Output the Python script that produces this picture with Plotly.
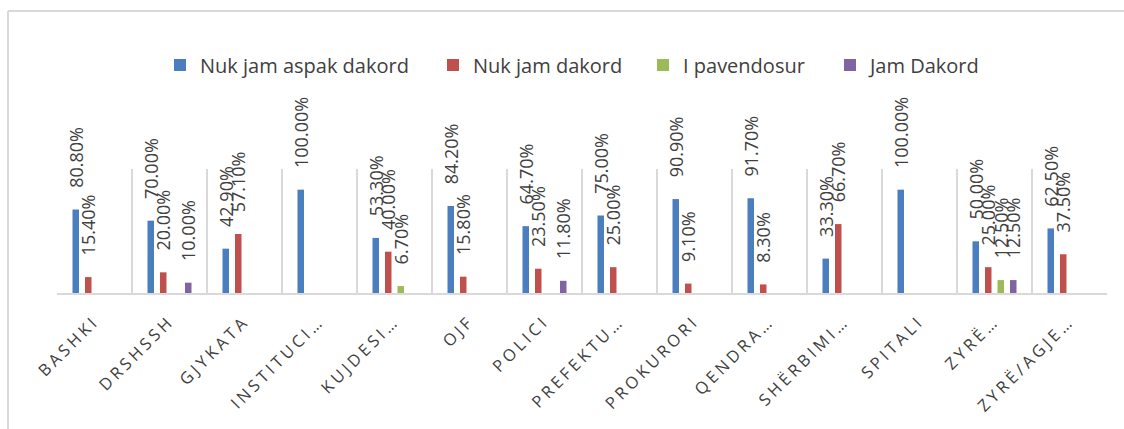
import plotly.graph_objects as go

categories = ["BASHKI", "DRSHSSH", "GJYKATA", "INSTITUCI…", "KUJDESI…", "OJF", "POLICI",
              "PREFEKTU…", "PROKURORI", "QENDRA…", "SHËRBIMI…", "SPITALI", "ZYRË…", "ZYRË/AGJE…"]

series_names = ["Nuk jam aspak dakord", "Nuk jam dakord", "I pavendosur", "Jam Dakord"]

nuk_jam_aspak_dakord = [0.808, 0.700, 0.429, 1.000, 0.533, 0.842, 0.647, 0.750, 0.909, 0.917, 0.333, 1.000, 0.500, 0.625]
nuk_jam_dakord = [0.154, 0.200, 0.571, None, 0.400, 0.158, 0.235, 0.250, 0.091, 0.083, 0.667, None, 0.250, 0.375]
i_pavendosur = [None, None, None, None, 0.067, None, None, None, None, None, None, None, 0.125, None]
jam_dakord = [None, 0.100, None, None, None, None, 0.118, None, None, None, None, None, 0.125, None]

series_values = [nuk_jam_aspak_dakord, nuk_jam_dakord, i_pavendosur, jam_dakord]
colors = ["#4A7EBF", "#C0504D", "#9BBB59", "#8064A2"]

FONT = "Open Sans"
L, R, T, B = 57, 17, 169, 136
W, H = 1124, 429
PW = W - L - R
PH = H - T - B

def px_to_paper_x(px):
    return (px - L) / PW

def px_to_paper_y(py):
    return (H - B - py) / PH

legend_x_px = [160, 433, 643, 830]
legend_keys = ["legend", "legend2", "legend3", "legend4"]

fig = go.Figure()
for name, vals, col, lk in zip(series_names, series_values, colors, legend_keys):
    fig.add_trace(go.Bar(
        x=categories, y=vals, name=name,
        marker=dict(color=col, line=dict(width=0)),
        texttemplate="\u00a0\u00a0\u00a0\u00a0%{y:.2%}",
        textposition="outside",
        textangle=-90,
        constraintext="none",
        cliponaxis=False,
        textfont=dict(family=FONT, size=18, color="#404040"),
        legend=lk,
    ))

legend_common = dict(orientation="h", yanchor="middle", xanchor="left",
                     font=dict(family=FONT, size=20, color="#404040"),
                     bgcolor="rgba(0,0,0,0)", borderwidth=0)
layout_legends = {}
for lk, xp in zip(legend_keys, legend_x_px):
    layout_legends[lk] = dict(legend_common, x=px_to_paper_x(xp), y=px_to_paper_y(65))

fig.update_layout(
    width=W, height=H,
    margin=dict(l=L, r=R, t=T, b=B),
    paper_bgcolor="white", plot_bgcolor="white",
    barmode="group", bargap=0.333, bargroupgap=0.48,
    showlegend=True,
    font=dict(family=FONT, color="#404040"),
    xaxis=dict(
        type="category",
        tickson="boundaries",
        showgrid=True, gridcolor="#D9D9D9", gridwidth=2,
        showline=True, linecolor="#D9D9D9", linewidth=2,
        ticks="", tickangle=-45,
        tickfont=dict(family=FONT, size=16.5, color="#404040"),
        ticklabelstandoff=10,
    ),
    yaxis=dict(range=[0, 1.2], showgrid=False, zeroline=False,
               showticklabels=False, showline=False, ticks=""),
    shapes=[
        dict(type="line", xref="paper", yref="paper",
             x0=px_to_paper_x(8), x1=px_to_paper_x(8),
             y0=px_to_paper_y(11), y1=px_to_paper_y(440),
             line=dict(color="#D9D9D9", width=2)),
        dict(type="line", xref="paper", yref="paper",
             x0=px_to_paper_x(8), x1=px_to_paper_x(1130),
             y0=px_to_paper_y(11), y1=px_to_paper_y(11),
             line=dict(color="#D9D9D9", width=2)),
    ],
    **layout_legends,
)

post = """
var st = document.createElement('style');
st.innerHTML = 'html, body { margin: 0 !important; padding: 0 !important; overflow: hidden; } .xtick text { letter-spacing: 3.5px; }';
document.head.appendChild(st);
"""

fig.write_html("out.html", post_script=post, config={"displayModeBar": False})
